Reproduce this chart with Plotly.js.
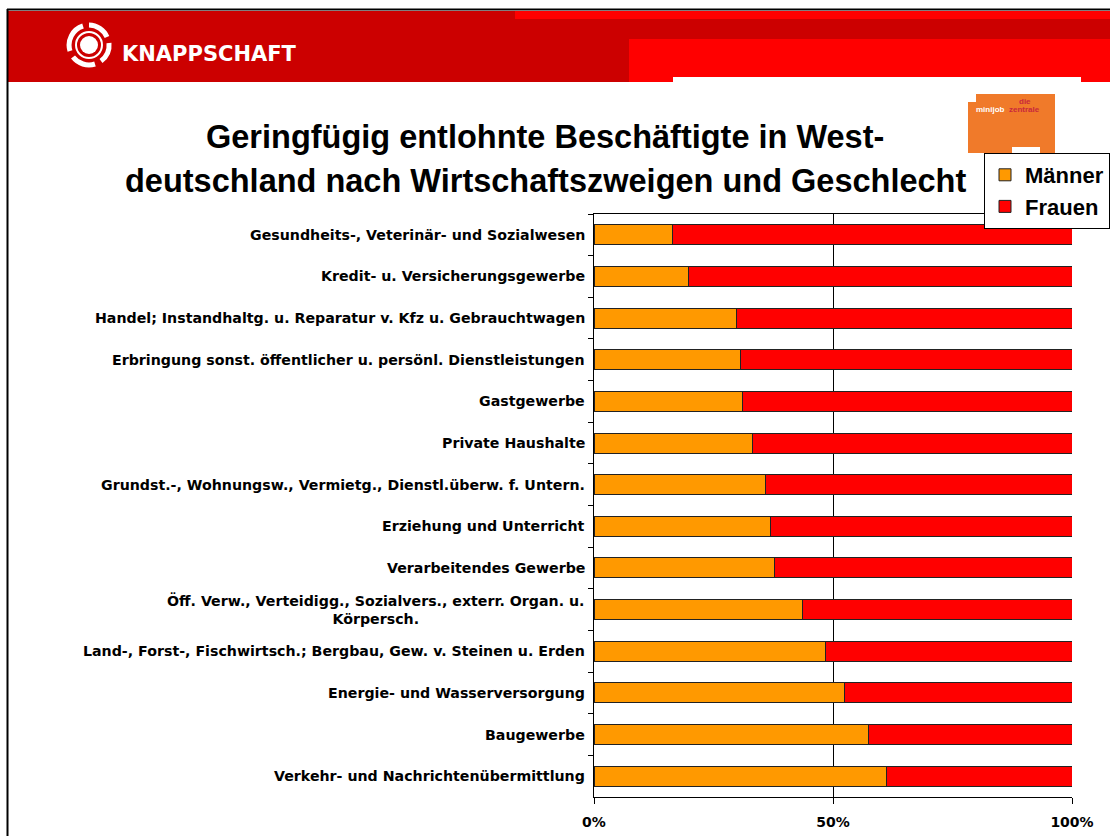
<!DOCTYPE html>
<html>
<head>
<meta charset="utf-8">
<script src="https://cdn.plot.ly/plotly-3.0.1.min.js"></script>
<style>
html,body{margin:0;padding:0;background:#fff;}
#chart{width:1110px;height:836px;}
</style>
</head>
<body>
<div id="chart"></div>
<script>
// ---- data ----
var categories = [
  "Gesundheits-, Veterinär- und Sozialwesen",
  "Kredit- u. Versicherungsgewerbe",
  "Handel; Instandhaltg. u. Reparatur v. Kfz u. Gebrauchtwagen",
  "Erbringung sonst. öffentlicher u. persönl. Dienstleistungen",
  "Gastgewerbe",
  "Private Haushalte",
  "Grundst.-, Wohnungsw., Vermietg., Dienstl.überw. f. Untern.",
  "Erziehung und Unterricht",
  "Verarbeitendes Gewerbe",
  "Öff. Verw., Verteidigg., Sozialvers., exterr. Organ. u.<br>Körpersch.",
  "Land-, Forst-, Fischwirtsch.; Bergbau, Gew. v. Steinen u. Erden",
  "Energie- und Wasserversorgung",
  "Baugewerbe",
  "Verkehr- und Nachrichtenübermittlung"
];
var maenner = [16.4, 19.8, 29.9, 30.7, 31.1, 33.1, 35.9, 36.9, 37.7, 43.7, 48.5, 52.4, 57.5, 61.1];
var frauen  = [83.6, 80.2, 70.1, 69.3, 68.9, 66.9, 64.1, 63.1, 62.3, 56.3, 51.5, 47.6, 42.5, 38.9];
var seriesNames = ["Männer", "Frauen"];
var tickVals = [0, 50, 100];
var tickLabels = ["0%", "50%", "100%"];
var titleLines = ["Geringfügig entlohnte Beschäftigte in West-", "deutschland nach Wirtschaftszweigen und Geschlecht"];

// ---- helpers for pixel -> paper ----
var W = 1110, H = 836;
function px(x){ return x / W; }
function py(y){ return 1 - y / H; }
var FONT = "Liberation Sans, Arial, sans-serif";
var WIDE = "DejaVu Sans, Verdana, sans-serif";

function rect(x0, y0, x1, y1, color){
  return {type:'rect', xref:'paper', yref:'paper', x0:px(x0), x1:px(x1), y0:py(y1), y1:py(y0),
          fillcolor:color, line:{width:0}, layer:'below'};
}

var traces = [
  {type:'bar', orientation:'h', name:seriesNames[0], y:categories, x:maenner,
   marker:{color:'#FF9900', line:{color:'#222', width:1}}, hoverinfo:'skip'},
  {type:'bar', orientation:'h', name:seriesNames[1], y:categories, x:frauen,
   marker:{color:'#FF0000', line:{color:'#222', width:1}}, hoverinfo:'skip'}
];

var shapes = [
  {type:'line', xref:'paper', yref:'paper', x0:px(7), x1:px(1110), y0:py(9.5), y1:py(9.5), line:{color:'#000', width:2}},
  {type:'line', xref:'paper', yref:'paper', x0:px(7.5), x1:px(7.5), y0:py(9), y1:py(836), line:{color:'#000', width:2}},
  rect(8, 11, 1110, 82, '#CC0000'),
  rect(515, 11, 1110, 19, '#FF0000'),
  rect(629, 39, 1110, 82, '#FF0000'),
  rect(673, 77, 1081, 83, '#FFFFFF'),
  rect(968, 94, 1055, 153, '#F07A2A'),
  rect(968, 94, 976, 102, '#FFFFFF'),
  rect(1012, 147, 1040, 153, '#FFFFFF')
];

var iconSvg = '<svg xmlns="http://www.w3.org/2000/svg" width="48" height="48" viewBox="0 0 48 48">' +
  '<g fill="none" stroke="#fff" stroke-width="5">' +
  '<path d="M24 4 A20 20 0 0 1 42 16"/>' +
  '<path d="M44 22 A20 20 0 0 1 36 40"/>' +
  '<path d="M30 43 A20 20 0 0 1 8 36"/>' +
  '<path d="M5 30 A20 20 0 0 1 18 5"/>' +
  '</g>' +
  '<circle cx="24" cy="24" r="13" fill="none" stroke="#fff" stroke-width="2"/>' +
  '<circle cx="24" cy="24" r="9" fill="#fff"/>' +
  '</svg>';

var images = [{
  source: 'data:image/svg+xml;base64,' + btoa(iconSvg),
  xref:'paper', yref:'paper', x:px(65), y:py(21), sizex:px(48), sizey:48/H,
  xanchor:'left', yanchor:'top', sizing:'stretch', layer:'above'
}];

var annotations = [];
categories.forEach(function(c){
  annotations.push({xref:'paper', yref:'y', x:px(587), y:c, text:'<b>'+c+'</b>', showarrow:false,
    xanchor:'right', yanchor:'middle', align:'center', font:{family:WIDE, size:14.2, color:'#000'}});
});
annotations.push({xref:'paper', yref:'paper', x:px(545), y:py(137), text:'<b>'+titleLines[0]+'</b>', showarrow:false,
  xanchor:'center', yanchor:'middle', font:{family:FONT, size:32.5, color:'#000'}});
annotations.push({xref:'paper', yref:'paper', x:px(545), y:py(181), text:'<b>'+titleLines[1]+'</b>', showarrow:false,
  xanchor:'center', yanchor:'middle', font:{family:FONT, size:32.5, color:'#000'}});
annotations.push({xref:'paper', yref:'paper', x:px(120), y:py(54), text:'<b>KNAPPSCHAFT</b>', showarrow:false,
  xanchor:'left', yanchor:'middle', font:{family:WIDE, size:21, color:'#fff'}});
annotations.push({xref:'paper', yref:'paper', x:px(1025), y:py(101), text:'<b>die</b>', showarrow:false,
  xanchor:'center', yanchor:'middle', font:{family:FONT, size:8, color:'#C8283C'}});
annotations.push({xref:'paper', yref:'paper', x:px(1007), y:py(110), text:'<b>minijob</b>', showarrow:false,
  xanchor:'right', yanchor:'middle', font:{family:FONT, size:8, color:'#fff'}});
annotations.push({xref:'paper', yref:'paper', x:px(1007), y:py(110), text:'<b>zentrale</b>', showarrow:false,
  xanchor:'left', yanchor:'middle', font:{family:FONT, size:8, color:'#C8283C'}});

var layout = {
  width:W, height:H,
  margin:{l:0, r:0, t:0, b:0},
  paper_bgcolor:'#fff', plot_bgcolor:'#fff',
  barmode:'stack', bargap:0.52,
  showlegend:true,
  legend:{x:px(984), y:py(153), xanchor:'left', yanchor:'top', traceorder:'normal',
          bgcolor:'#fff', bordercolor:'#000', borderwidth:1,
          font:{family:FONT, size:22, color:'#000', weight:'bold'}, itemwidth:30},
  xaxis:{domain:[px(594), px(1072)], range:[0,100], tickvals:tickVals, ticktext:tickLabels,
         showgrid:true, gridcolor:'#000', gridwidth:1, zeroline:false,
         showline:true, linecolor:'#000', linewidth:1, mirror:true,
         ticks:'outside', ticklen:6, tickcolor:'#000', ticklabelstandoff:6,
         tickfont:{family:WIDE, size:14, color:'#000', weight:'bold'}, fixedrange:true},
  yaxis:{domain:[py(797), py(214)], autorange:'reversed', type:'category',
         showticklabels:false, showgrid:false, zeroline:false,
         showline:true, linecolor:'#000', linewidth:1,
         ticks:'outside', tickson:'boundaries', ticklen:5, tickcolor:'#000', fixedrange:true},
  shapes:shapes, images:images, annotations:annotations
};

Plotly.newPlot('chart', traces, layout, {staticPlot:true, displayModeBar:false});
</script>
</body>
</html>
